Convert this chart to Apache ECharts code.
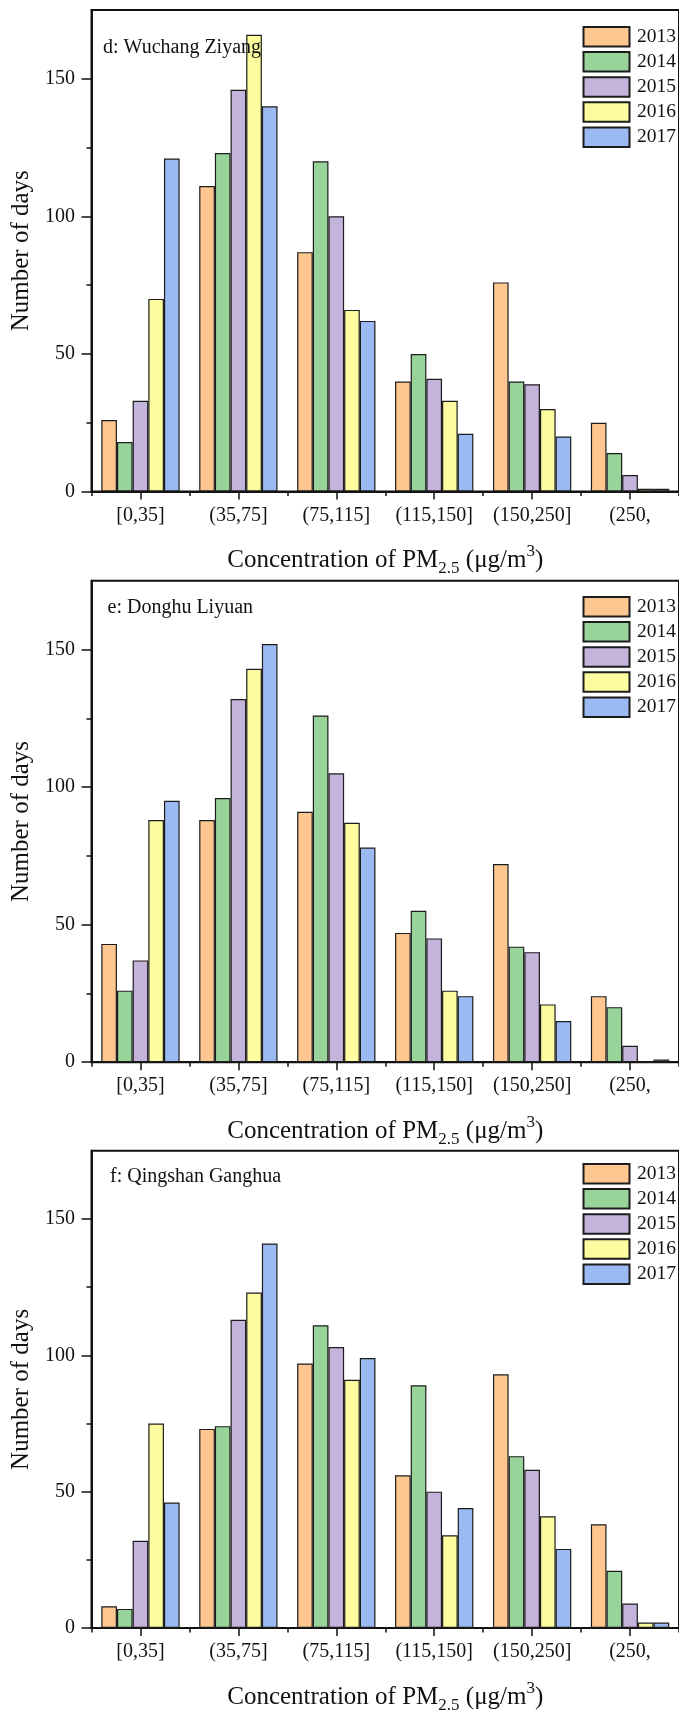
<!DOCTYPE html>
<html><head><meta charset="utf-8">
<script src="https://cdn.jsdelivr.net/npm/echarts@6/dist/echarts.min.js"></script>
<style>html,body{margin:0;padding:0;background:#fff}#c{width:679px;height:1715px}</style>
</head><body><div id="c"></div>
<script>
// ---- data ----
const categories = ['[0,35]', '(35,75]', '(75,115]', '(115,150]', '(150,250]', '(250,'];
const years = ['2013', '2014', '2015', '2016', '2017'];
const yTicks = [0, 50, 100, 150];
const yMinorTicks = [25, 75, 125];
const stationTitles = ['d: Wuchang Ziyang', 'e: Donghu Liyuan', 'f: Qingshan Ganghua'];
const yAxisTitle = 'Number of days';
const xAxisTitle = 'Concentration of PM{sub|2.5} (μg/m{sup|3})';
// rows = years 2013..2017, columns = categories
const wuchangZiyang = [
  [26, 111, 87, 40, 76, 25],
  [18, 123, 120, 50, 40, 14],
  [33, 146, 100, 41, 39, 6],
  [70, 166, 66, 33, 30, 1],
  [121, 140, 62, 21, 20, 1]
];
const donghuLiyuan = [
  [43, 88, 91, 47, 72, 24],
  [26, 96, 126, 55, 42, 20],
  [37, 132, 105, 45, 40, 6],
  [88, 143, 87, 26, 21, 0],
  [95, 152, 78, 24, 15, 1]
];
const qingshanGanghua = [
  [8, 73, 97, 56, 93, 38],
  [7, 74, 111, 89, 63, 21],
  [32, 113, 103, 50, 58, 9],
  [75, 123, 91, 34, 41, 2],
  [46, 141, 99, 44, 29, 2]
];
const stations = [wuchangZiyang, donghuLiyuan, qingshanGanghua];

// ---- styling ----
const colors = ['#FDC78F', '#98D49A', '#C4B3DA', '#FDFC9E', '#9BB9F3'];
const FONT = "'Liberation Serif','Times New Roman',serif";
const INK = '#111';
const gridTops = [10, 580.7, 1150.7];
const gridH = 481.5, gridLeft = 91.5, gridW = 598;
const titleTops = [38, 598, 1167];
const titleLefts = [103, 107.5, 110];
const legendTops = [26, 596, 1163];

const grid = [], xAxis = [], yAxis = [], series = [], title = [], legend = [];
stations.forEach((rows, g) => {
  grid.push({left: gridLeft, top: gridTops[g], width: gridW, height: gridH,
    show: true, borderColor: INK, borderWidth: 2, backgroundColor: 'transparent'});
  xAxis.push({
    type: 'category', gridIndex: g, data: categories, position: 'bottom',
    axisLine: {show: true, lineStyle: {color: INK, width: 2}},
    axisTick: {show: true, alignWithLabel: true, length: 8, lineStyle: {color: INK, width: 1.5}},
    axisLabel: {interval: 0, margin: 14, fontSize: 20, fontFamily: FONT, color: INK},
    splitLine: {show: false},
    name: xAxisTitle, nameLocation: 'middle', nameGap: 52,
    nameTextStyle: {fontSize: 25, fontFamily: FONT, color: INK, lineHeight: 34,
      rich: {
        sub: {fontSize: 17, fontFamily: FONT, color: INK, verticalAlign: 'bottom', lineHeight: 17},
        sup: {fontSize: 17, fontFamily: FONT, color: INK, verticalAlign: 'top', lineHeight: 17}
      }}
  });
  xAxis.push({
    type: 'category', gridIndex: g, data: categories, position: 'bottom',
    axisLine: {show: false},
    axisTick: {show: true, alignWithLabel: false, length: 4.5, lineStyle: {color: INK, width: 1.5}},
    axisLabel: {show: false}, splitLine: {show: false}
  });
  yAxis.push({
    type: 'value', gridIndex: g, min: 0, max: 175, position: 'left',
    axisLine: {show: true, lineStyle: {color: INK, width: 2}},
    axisTick: {show: true, customValues: yTicks, length: 10, lineStyle: {color: INK, width: 1.5}},
    axisLabel: {customValues: yTicks, margin: 16.5, fontSize: 20, fontFamily: FONT, color: INK},
    splitLine: {show: false},
    name: yAxisTitle, nameLocation: 'middle', nameGap: 47, nameRotate: 90,
    nameTextStyle: {fontSize: 25, fontFamily: FONT, color: INK}
  });
  yAxis.push({
    type: 'value', gridIndex: g, min: 0, max: 175, position: 'left',
    axisLine: {show: false},
    axisTick: {show: true, customValues: yMinorTicks, length: 5, lineStyle: {color: INK, width: 1.5}},
    axisLabel: {show: false}, splitLine: {show: false}
  });
  title.push({text: stationTitles[g], left: titleLefts[g], top: titleTops[g], padding: 0,
    textStyle: {fontSize: 20, fontWeight: 'normal', fontFamily: FONT, color: INK, lineHeight: 20}});
  legend.push({
    data: years, orient: 'vertical', left: 582.5, top: legendTops[g], padding: 0,
    itemWidth: 46, itemHeight: 19.5, itemGap: 3.6, icon: 'rect', selectedMode: false,
    textStyle: {fontSize: 19.5, fontFamily: FONT, color: INK, lineHeight: 19.5, padding: [0, 0, 0, 2.5]}
  });
  rows.forEach((vals, s) => {
    series.push({
      type: 'bar', name: years[s], xAxisIndex: 2 * g, yAxisIndex: 2 * g, data: vals,
      barGap: '0%', barCategoryGap: '20%',
      itemStyle: {color: colors[s], borderColor: '#1c1c1c', borderWidth: 1.2},
      emphasis: {disabled: true}
    });
  });
});

const chart = echarts.init(document.getElementById('c'), null, {renderer: 'canvas'});
chart.setOption({
  animation: false, backgroundColor: '#ffffff',
  grid, xAxis, yAxis, series, title, legend
});
</script>
</body></html>
